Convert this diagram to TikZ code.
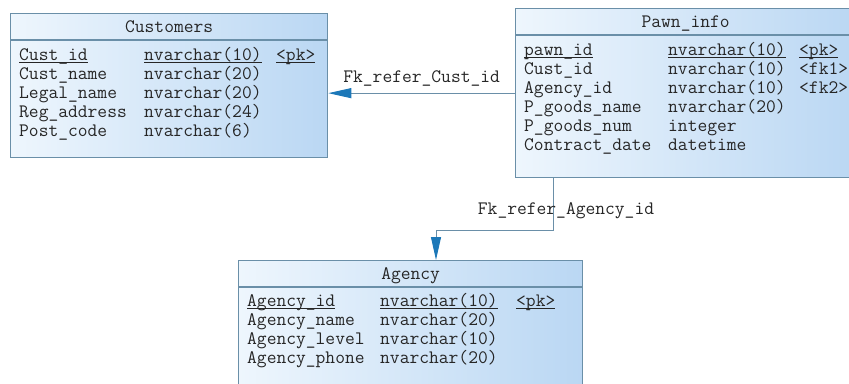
\documentclass[tikz,border=0pt]{standalone}
\usepackage{tikz}
\usetikzlibrary{arrows.meta,positioning}

\definecolor{erline}{HTML}{6A8FA8}
\definecolor{erlight}{HTML}{EEF6FD}
\definecolor{erdark}{HTML}{BAD7F3}
\definecolor{erarrow}{HTML}{1C78B8}
\definecolor{ertext}{HTML}{262626}
\newcommand{\erfont}{\ttfamily\fontsize{19}{19}\selectfont}
\newcommand{\keyfield}[1]{\underline{\smash{#1}}}

\begin{document}
\begin{tikzpicture}[x=1pt, y=-1pt,
      table/.style={
        rectangle,
        draw=erline, line width=1.3pt,
        left color=erlight, right color=erdark,
        inner sep=0pt,
        anchor=north west
      },
      title/.style={
        text=ertext, font=\erfont,
        inner sep=0pt, anchor=mid
      },
      fields/.style={
        text=ertext, font=\erfont,
        inner sep=0pt, anchor=base west
      },
      fkarrow/.style={
        draw=erline, line width=1pt,
        -{Triangle[length=23pt,width=10pt,color=erarrow]}
      }
    ]
      \useasboundingbox (0,0) rectangle (849,383);
      \node[table, minimum width=317pt, minimum height=144pt] (customers) at (10,13) {};
      \node[table, minimum width=340pt, minimum height=169pt] (pawn) at (515,8) {};
      \node[table, minimum width=344pt, minimum height=132pt] (agency) at (238,260) {};
      \foreach \t in {customers,pawn,agency}
        \draw[erline, line width=1.3pt] ([yshift=-27pt]\t.north west) -- ([yshift=-27pt]\t.north east);
      \node[title] (customers-title) at ([yshift=-17.5pt]customers.north) {Customers};
      \node[title] (pawn-title) at ([yshift=-17.5pt]pawn.north) {Pawn\_info};
      \node[title] (agency-title) at ([yshift=-17.5pt]agency.north) {Agency};
      \node[fields] (customers-fields) at ([xshift=9pt,yshift=-47.5pt]customers.north west) {%
        \begin{tabular}[t]{@{}p{125pt}@{}p{132pt}@{}l@{}}
          \keyfield{Cust\_id} & \keyfield{nvarchar(10)} & \keyfield{<pk>}\\
          Cust\_name & nvarchar(20) & \\
          Legal\_name & nvarchar(20) & \\
          Reg\_address & nvarchar(24) & \\
          Post\_code & nvarchar(6) &
        \end{tabular}};
      \node[fields] (pawn-fields) at ([xshift=9pt,yshift=-47.5pt]pawn.north west) {%
        \begin{tabular}[t]{@{}p{144pt}@{}p{131pt}@{}l@{}}
          \keyfield{pawn\_id} & \keyfield{nvarchar(10)} & \keyfield{<pk>}\\
          Cust\_id & nvarchar(10) & <fk1>\\
          Agency\_id & nvarchar(10) & <fk2>\\
          P\_goods\_name & nvarchar(20) & \\
          P\_goods\_num & integer & \\
          Contract\_date & datetime &
        \end{tabular}};
      \node[fields] (agency-fields) at ([xshift=9pt,yshift=-46.5pt]agency.north west) {%
        \begin{tabular}[t]{@{}p{133pt}@{}p{136pt}@{}l@{}}
          \keyfield{Agency\_id} & \keyfield{nvarchar(10)} & \keyfield{<pk>}\\
          Agency\_name & nvarchar(20) & \\
          Agency\_level & nvarchar(10) & \\
          Agency\_phone & nvarchar(20) &
        \end{tabular}};
      \coordinate (agency-in) at ([xshift=198pt]agency.north west);
      \coordinate (bend) at ([yshift=30pt]agency-in);
      \draw[fkarrow] (pawn.west) -- (pawn.west -| customers.east)
        node[midway, title, yshift=12.5pt] (fk-cust) {Fk\_refer\_Cust\_id};
      \draw[fkarrow] ([xshift=38pt]pawn.south west) |- node[pos=0.33, title, xshift=13pt] (fk-agency) {Fk\_refer\_Agency\_id} (bend) -- (agency-in);
    \end{tikzpicture}
\end{document}
